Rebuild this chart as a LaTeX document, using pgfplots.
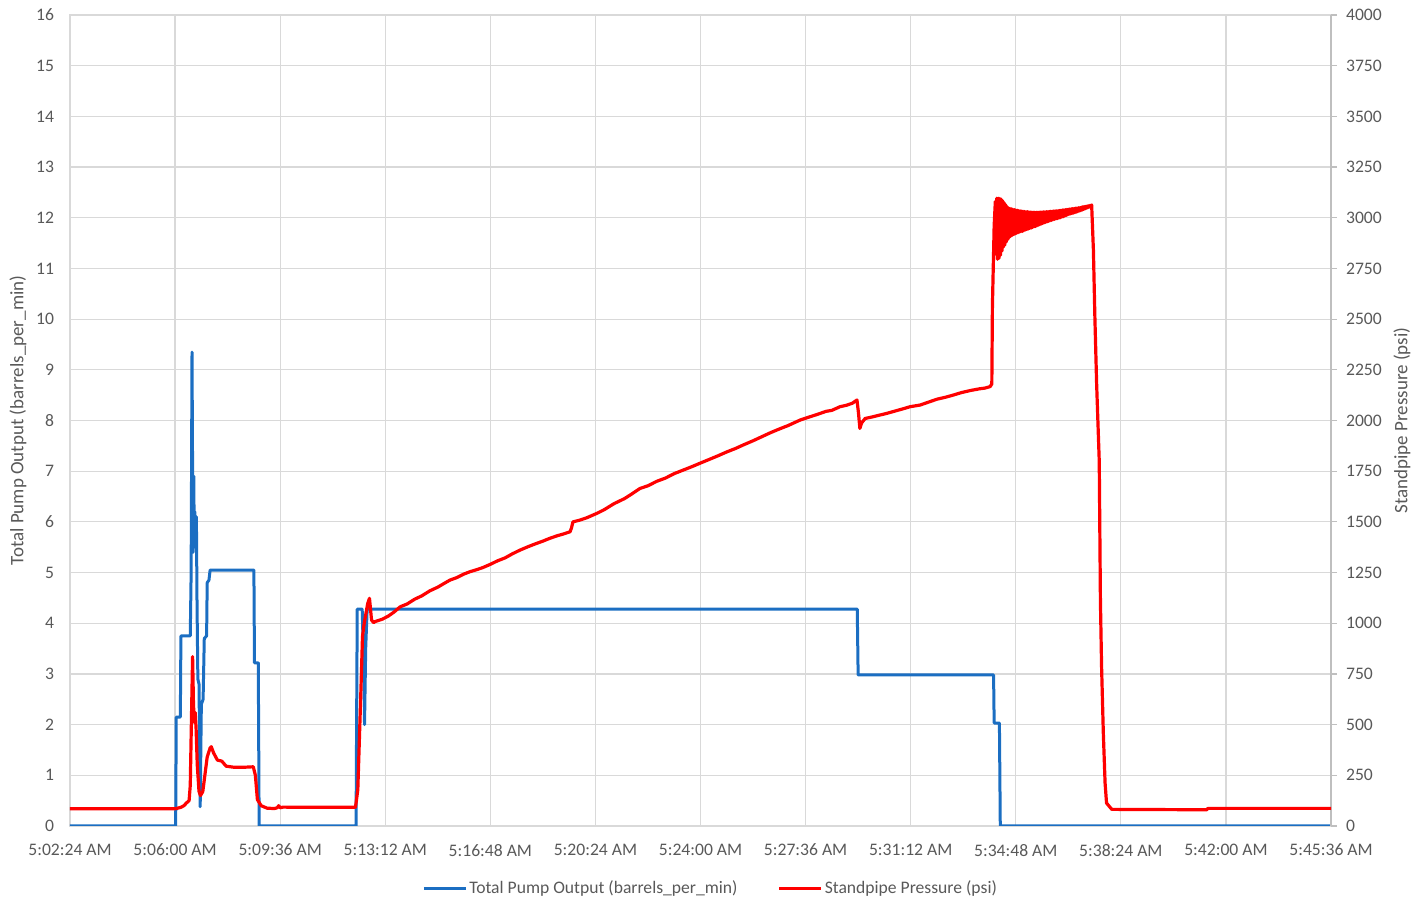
\documentclass[border=0pt]{standalone}
\usepackage{pgfplots}
\pgfplotsset{compat=1.18}
\usepackage{fontspec}
\setmainfont{Carlito}
\definecolor{xlblue}{HTML}{1B6EC2}
\definecolor{xlred}{HTML}{FF0000}
\definecolor{gridc}{HTML}{D9D9D9}
\definecolor{axc}{HTML}{BFBFBF}
\definecolor{txt}{HTML}{595959}

\begin{document}
\begin{tikzpicture}
\path[use as bounding box] (-35pt,-38.5pt) rectangle (679pt,413pt);
\begin{axis}[
  scale only axis, width=630.5pt, height=405.5pt,
  xmin=0, xmax=43.2, ymin=0, ymax=16,
  xtick={0,3.6,7.2,10.8,14.4,18,21.6,25.2,28.8,32.4,36,39.6,43.2},
  xticklabels={5:02:24 AM,5:06:00 AM,5:09:36 AM,5:13:12 AM,5:16:48 AM,5:20:24 AM,5:24:00 AM,5:27:36 AM,5:31:12 AM,5:34:48 AM,5:38:24 AM,5:42:00 AM,5:45:36 AM},
  ytick={0,1,...,16},
  grid=major, grid style={color=gridc, line width=0.6pt},
  axis line style={color=gridc, line width=0.6pt},
  tick style={draw=none},
  major tick length=0pt,
  tick label style={color=txt, font=\fontsize{8.8}{10}\selectfont},
  /pgf/number format/assume math mode=true,
  xticklabel shift=5.5pt,
  yticklabel shift=4.5pt,
  every axis y label/.style={at={(rel axis cs:0,0.5)}, xshift=-26pt, rotate=90, anchor=center, color=txt, font=\fontsize{9.5}{11}\selectfont},
  ylabel={Total Pump Output (barrels\_per\_min)},
]
\addplot[color=xlblue, line width=1.5pt, line join=round] coordinates {
(0,0) (3.62,0) (3.64,2.15) (3.78,2.15) (3.80,3.75) (4.12,3.75) (4.15,5.0) (4.18,9.35)
(4.20,7.0) (4.22,5.4) (4.24,6.9) (4.26,5.5) (4.28,6.2) (4.30,5.6) (4.33,6.1) (4.35,4.5)
(4.38,2.9) (4.42,2.8) (4.46,0.38) (4.50,2.4) (4.56,2.5) (4.60,3.7) (4.68,3.75) (4.70,4.8)
(4.76,4.85) (4.80,5.05) (6.30,5.05) (6.32,3.22) (6.45,3.22) (6.48,0) (9.80,0) (9.84,4.28)
(10.01,4.28) (10.07,3.0) (10.09,2.0) (10.13,3.5) (10.18,4.28) (26.97,4.28) (27.00,2.98)
(31.64,2.98) (31.66,2.03) (31.84,2.03) (31.87,0) (43.2,0)
};
\end{axis}
\begin{axis}[
  scale only axis, width=630.5pt, height=405.5pt,
  xmin=0, xmax=43.2, ymin=0, ymax=4000,
  axis x line=none,
  axis y line*=right,
  axis line style={color=axc, line width=0.6pt},
  ytick={0,250,...,4000},
  scaled y ticks=false,
  /pgf/number format/1000 sep={},
  /pgf/number format/assume math mode=true,
  tick align=outside,
  major tick length=3pt,
  ytick style={color=axc, line width=0.6pt},
  tick label style={color=txt, font=\fontsize{8.8}{10}\selectfont},
  yticklabel shift=1pt,
  every axis y label/.style={at={(rel axis cs:1,0.5)}, xshift=35.5pt, rotate=90, anchor=center, color=txt, font=\fontsize{9.5}{11}\selectfont},
  ylabel={Standpipe Pressure (psi)},
  legend style={at={(0.508,-0.077)}, anchor=center, draw=none, fill=none,
    legend columns=2, font=\fontsize{8.8}{10}\selectfont, text=txt,
    nodes={inner xsep=1pt},
    /tikz/every even column/.append style={column sep=19pt}},
  legend image code/.code={\draw[#1] (0pt,0pt) -- (21pt,0pt);},
]
\addlegendimage{color=xlblue, line width=1.5pt}
\addlegendentry{Total Pump Output (barrels\_per\_min)}
\addplot[color=xlred, line width=1.6pt, line join=round] coordinates {
(0,85) (3.60,85) (3.80,92) (3.90,100) (4.00,115) (4.08,125) (4.12,200) (4.17,600) (4.20,835) (4.23,600)
(4.26,510) (4.29,560) (4.32,480) (4.36,300) (4.42,170) (4.47,150) (4.55,170) (4.62,250)
(4.70,340) (4.80,385) (4.84,391) (4.92,360) (5.05,325) (5.20,320) (5.35,295) (5.60,290)
(6.00,290) (6.28,292) (6.35,250) (6.42,130) (6.55,100) (6.75,88) (7.00,86) (7.10,90)
(7.15,100) (7.20,90) (7.30,93) (9.78,92) (9.86,178) (9.97,687) (10.02,934) (10.08,1001)
(10.20,1098) (10.26,1123) (10.33,1016) (10.40,1003) (10.45,1008) (10.53,1012)
(10.70,1020) (10.90,1035) (11.10,1055) (11.31,1081) (11.55,1095) (11.80,1118) (12.05,1135)
(12.33,1160) (12.60,1178) (12.80,1195) (13.02,1213) (13.25,1225) (13.50,1243) (13.70,1254)
(13.95,1265) (14.15,1275) (14.39,1290) (14.65,1308) (14.90,1322) (15.15,1342) (15.42,1361)
(15.70,1378) (15.95,1392) (16.20,1405) (16.44,1419) (16.70,1432) (16.90,1440) (17.13,1451)
(17.18,1470) (17.23,1500) (17.45,1508) (17.70,1520) (18.05,1542) (18.30,1560) (18.64,1590)
(19.00,1615) (19.25,1638) (19.53,1665) (19.80,1678) (20.10,1700) (20.40,1716) (20.70,1738)
(21.00,1755) (21.30,1772) (21.58,1789) (21.90,1808) (22.20,1826) (22.50,1845) (22.80,1862)
(23.06,1879) (23.40,1900) (23.70,1920) (24.00,1940) (24.30,1958) (24.60,1975) (25.01,2002)
(25.30,2016) (25.60,2030) (25.90,2045) (26.10,2050) (26.38,2068) (26.60,2075) (26.80,2085)
(26.96,2101) (27.01,2040) (27.06,1961) (27.10,1980) (27.13,1990) (27.24,2010) (27.50,2018)
(27.75,2027) (27.98,2035) (28.30,2048) (28.55,2058) (28.78,2068) (29.12,2076) (29.40,2090)
(29.70,2105) (30.00,2115) (30.25,2125) (30.55,2138) (30.85,2148) (31.15,2156) (31.35,2160)
(31.52,2167) (31.58,2180) (31.60,2561) (31.66,2960)
(31.700,3080) (31.725,2820) (31.750,3096) (31.775,2795) (31.800,3096) (31.825,2800)
(31.850,3095) (31.875,2815) (31.900,3092) (31.925,2835) (31.950,3085) (31.975,2855)
(32.000,3075) (32.025,2865) (32.050,3065) (32.075,2880) (32.100,3055) (32.125,2892)
(32.150,3048) (32.175,2902) (32.200,3046) (32.225,2908) (32.250,3044) (32.275,2913)
(32.300,3042) (32.325,2917) (32.350,3040) (32.375,2920) (32.400,3038) (32.425,2923)
(32.450,3037) (32.475,2926) (32.500,3035) (32.525,2929) (32.550,3034) (32.575,2931)
(32.600,3033) (32.625,2933) (32.650,3032) (32.675,2936) (32.700,3031) (32.725,2939)
(32.750,3030) (32.775,2942) (32.800,3030) (32.825,2944) (32.850,3029) (32.875,2947)
(32.900,3028) (32.925,2949) (32.950,3028) (32.975,2952) (33.000,3027) (33.025,2955)
(33.050,3027) (33.075,2957) (33.100,3027) (33.125,2960) (33.150,3027) (33.175,2963)
(33.200,3028) (33.225,2966) (33.250,3028) (33.275,2969) (33.300,3028) (33.325,2972)
(33.350,3029) (33.375,2975) (33.400,3029) (33.425,2977) (33.450,3030) (33.475,2980)
(33.500,3030) (33.525,2982) (33.550,3031) (33.575,2985) (33.600,3032) (33.625,2987)
(33.650,3032) (33.675,2990) (33.700,3033) (33.725,2992) (33.750,3034) (33.775,2994)
(33.800,3034) (33.825,2996) (33.850,3035) (33.875,2998) (33.900,3036) (33.925,3000)
(33.950,3037) (33.975,3003) (34.000,3038) (34.025,3005) (34.050,3039) (34.075,3008)
(34.100,3040) (34.125,3011) (34.150,3041) (34.175,3014) (34.200,3042) (34.225,3017)
(34.250,3043) (34.275,3019) (34.300,3044) (34.325,3021) (34.350,3045) (34.375,3023)
(34.400,3046) (34.425,3025) (34.450,3047) (34.475,3028) (34.500,3048) (34.525,3030)
(34.550,3049) (34.575,3033) (34.600,3050) (34.625,3035) (34.650,3052) (34.675,3038)
(34.700,3054) (34.725,3041) (34.750,3055) (34.775,3044) (34.800,3056) (34.825,3047)
(34.850,3058) (34.875,3050) (34.900,3059) (34.925,3053) (34.950,3061) (34.975,3058)
(35.000,3063)
(35.06,2841) (35.11,2512) (35.17,2183) (35.26,1800) (35.30,1115) (35.34,786) (35.40,458)
(35.46,212) (35.51,113) (35.69,82) (38.94,80) (38.99,87) (43.2,87)
};
\addlegendentry{Standpipe Pressure (psi)}
\end{axis}
\end{tikzpicture}
\end{document}
